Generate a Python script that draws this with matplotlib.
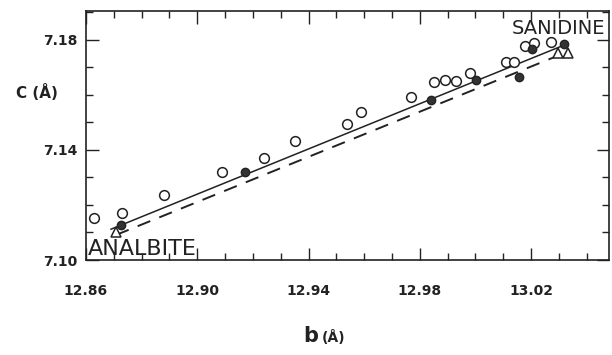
import numpy as np
import matplotlib.pyplot as plt
from matplotlib.ticker import MultipleLocator

# open circles (b, c) in angstrom
b_open = [12.863, 12.873, 12.888, 12.909, 12.924, 12.935, 12.954, 12.959, 12.977,
          12.985, 12.989, 12.993, 12.998, 13.011, 13.014, 13.018, 13.021, 13.027]
c_open = [7.1152, 7.1172, 7.1236, 7.1321, 7.1370, 7.1434, 7.1495, 7.1539, 7.1594,
          7.1646, 7.1655, 7.1652, 7.1679, 7.1721, 7.1721, 7.1776, 7.1790, 7.1794]

# filled circles
b_fill = [12.8726, 12.9171, 12.9839, 13.0003, 13.0156, 13.0202, 13.0318]
c_fill = [7.1127, 7.1321, 7.1582, 7.1653, 7.1665, 7.1767, 7.1784]

# end members (triangles)
b_tri = [12.8708, 13.0296, 13.0332]
c_tri = [7.1103, 7.1752, 7.1752]

# fitted lines (end points)
b_solid = [12.869, 13.0321]
c_solid = [7.1112, 7.1782]
b_dash = [12.8708, 13.0329]
c_dash = [7.1091, 7.1756]

x_ticks = [12.86, 12.90, 12.94, 12.98, 13.02]
y_ticks = [7.10, 7.14, 7.18]

ink = '#222222'

fig = plt.figure(figsize=(6.12, 3.55), dpi=100)
ax = fig.add_axes([0.1405, 0.2676, 0.8545, 0.7014])

ax.plot(b_solid, c_solid, color=ink, lw=1.1)
ax.plot(b_dash, c_dash, color=ink, lw=1.4, dashes=(7, 5))
ax.plot(b_open, c_open, 'o', ms=7, mfc='white', mec=ink, mew=1.1, ls='none')
ax.plot(b_fill, c_fill, 'o', ms=6, mfc='#333333', mec=ink, mew=1.0, ls='none')
ax.plot(b_tri, c_tri, '^', ms=7, mfc='white', mec=ink, mew=1.1, ls='none')

ax.set_xlim(12.86, 13.048)
ax.set_ylim(7.10, 7.1905)

ax.set_xticks(x_ticks)
ax.set_yticks(y_ticks)
ax.set_xticklabels([f'{v:.2f}' for v in x_ticks])
ax.set_yticklabels([f'{v:.2f}' for v in y_ticks])
ax.xaxis.set_minor_locator(MultipleLocator(0.01))
ax.yaxis.set_minor_locator(MultipleLocator(0.01))

ax.tick_params(which='both', direction='in', top=True, right=True, color=ink, width=1.0)
ax.tick_params(which='major', length=9)
ax.tick_params(which='minor', length=5)
ax.tick_params(axis='x', which='major', pad=17)
ax.tick_params(axis='y', which='major', pad=6)
for lab in ax.get_xticklabels() + ax.get_yticklabels():
    lab.set_fontweight('bold')
    lab.set_fontsize(10)
    lab.set_color(ink)
for s in ax.spines.values():
    s.set_color(ink)
    s.set_linewidth(1.2)

ax.text(12.8608, 7.1005, 'ANALBITE', fontsize=16, color=ink, ha='left', va='bottom')
ax.text(13.0465, 7.184, 'SANIDINE', fontsize=14, color=ink, ha='right', va='center')

fig.text(37 / 612, 1 - 92 / 355, 'C (Å)', fontsize=11, fontweight='bold', color=ink,
         ha='center', va='center')
fig.text(318 / 612, 1 - 336 / 355, 'b', fontsize=15, fontweight='bold', color=ink,
         ha='right', va='center')
fig.text(322 / 612, 1 - 338 / 355, '(Å)', fontsize=10, fontweight='bold', color=ink,
         ha='left', va='center')

fig.savefig('out.png', dpi=100)
